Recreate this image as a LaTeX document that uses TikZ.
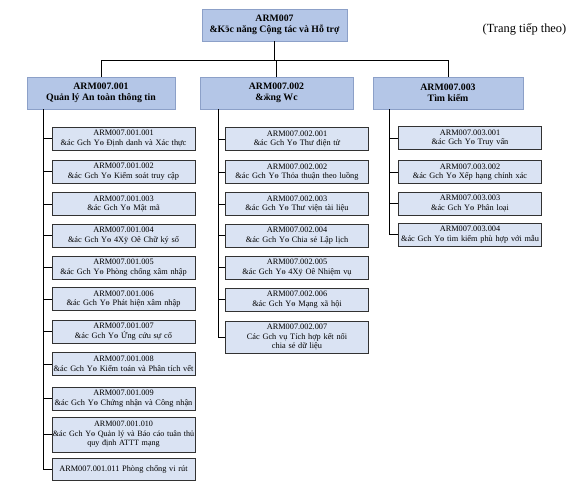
\documentclass[tikz,border=0pt]{standalone}
\usepackage{fontspec}
\setmainfont{Liberation Serif}
\definecolor{pfill}{RGB}{180,198,231}
\definecolor{pdraw}{RGB}{140,160,200}
\definecolor{cfill}{RGB}{218,227,243}
\definecolor{cdraw}{RGB}{50,50,50}
\begin{document}
\begin{tikzpicture}[x=1pt,y=-1pt,
  topbox/.style={draw=pdraw,fill=pfill,line width=0.6pt,minimum height=32pt,inner sep=1pt,align=center,font=\fontsize{9.8}{11.5}\selectfont\bfseries},
  childbox/.style={draw=cdraw,fill=cfill,line width=0.9pt,minimum width=143pt,text width=143pt,inner xsep=0pt,inner ysep=1pt,minimum height=23pt,align=center,font=\fontsize{8.3}{9.6}\selectfont},
  link/.style={draw=black,line width=0.8pt}]
\useasboundingbox (0,0) rectangle (576,491);
% top
\node[topbox,minimum width=145pt] (top) at (274.5,25) {ARM007\\\&Kӭc năng Cộng tác và Hỗ trợ};
\node[font=\fontsize{12.4}{14}\selectfont] (cont) at (524.5,29) {(Trang tiếp theo)};
% parents
\node[topbox,minimum width=148pt] (p1) at (101,93) {ARM007.001\\Quản lý An toàn thông tin};
\node[topbox,minimum width=153pt] (p2) at (276.5,93) {ARM007.002\\\&ӝng Wc};
\node[topbox,minimum width=150pt] (p3) at (448,93) {ARM007.003\\Tìm kiếm};
\coordinate (j) at (274.5,60);
\draw[link] (top.south) -- (j);
\draw[link] (j) -| (p1.north);
\draw[link] (j) -| (p2.north);
\draw[link] (j) -| (p3.north);
% group 1
\node[childbox] (a1) at (123.5,138.5) {ARM007.001.001\\\&ác Gch Yө Định danh và Xác thực};
\node[childbox] (a2) at (123.5,171.5) {ARM007.001.002\\\&ác Gch Yө Kiểm soát truy cập};
\node[childbox] (a3) at (123.5,204) {ARM007.001.003\\\&ác Gch Yө Mật mã};
\node[childbox] (a4) at (123.5,235.5) {ARM007.001.004\\\&ác Gch Yө 4Xӱ Oê Chữ ký số};
\node[childbox] (a5) at (123.5,267.5) {ARM007.001.005\\\&ác Gch Yө Phòng chống xâm nhập};
\node[childbox] (a6) at (123.5,299) {ARM007.001.006\\\&ác Gch Yө Phát hiện xâm nhập};
\node[childbox] (a7) at (123.5,331.5) {ARM007.001.007\\\&ác Gch Yө Ứng cứu sự cố};
\node[childbox] (a8) at (123.5,364) {ARM007.001.008\\\&ác Gch Yө Kiểm toán và Phân tích vết};
\node[childbox] (a9) at (123.5,398.5) {ARM007.001.009\\\&ác Gch Yө Chứng nhận và Công nhận};
\node[childbox,minimum height=35pt,font=\fontsize{8.1}{9.6}\selectfont] (a10) at (123.5,434.5) {ARM007.001.010\\\&ác Gch Yө Quản lý và Báo cáo tuân thủ\\quy định ATTT mạng};
\node[childbox,minimum height=22pt] (a11) at (123.5,469) {ARM007.001.011 Phòng chống vi rút};
\coordinate (ba) at (43,109);
\foreach \n in {a1,a2,a3,a4,a5,a6,a7,a8,a9,a10,a11} \draw[link] (ba) |- (\n.west);
% group 2
\node[childbox] (b1) at (297,139) {ARM007.002.001\\\&ác Gch Yө Thư điện tử};
\node[childbox] (b2) at (297,172) {ARM007.002.002\\\&ác Gch Yө Thỏa thuận theo luồng};
\node[childbox] (b3) at (297,204) {ARM007.002.003\\\&ác Gch Yө Thư viện tài liệu};
\node[childbox] (b4) at (297,235.5) {ARM007.002.004\\\&ác Gch Yө Chia sẻ Lập lịch};
\node[childbox] (b5) at (297,267.5) {ARM007.002.005\\\&ác Gch Yө 4Xӱ Oê Nhiệm vụ};
\node[childbox] (b6) at (297,299.5) {ARM007.002.006\\\&ác Gch Yө Mạng xã hội};
\node[childbox,minimum height=32pt] (b7) at (297,337) {ARM007.002.007\\Các Gch vụ Tích hợp kết nối\\chia sẻ dữ liệu};
\coordinate (bb) at (218,109);
\foreach \n in {b1,b2,b3,b4,b5,b6,b7} \draw[link] (bb) |- (\n.west);
% group 3
\node[childbox] (c1) at (470,138) {ARM007.003.001\\\&ác Gch Yө Truy vấn};
\node[childbox] (c2) at (470,172) {ARM007.003.002\\\&ác Gch Yө Xếp hạng chính xác};
\node[childbox] (c3) at (470,203.5) {ARM007.003.003\\\&ác Gch Yө Phân loại};
\node[childbox] (c4) at (470,234.5) {ARM007.003.004\\\&ác Gch Yө tìm kiếm phù hợp với mẫu};
\coordinate (bc) at (389,109);
\foreach \n in {c1,c2,c3,c4} \draw[link] (bc) |- (\n.west);
\end{tikzpicture}
\end{document}
